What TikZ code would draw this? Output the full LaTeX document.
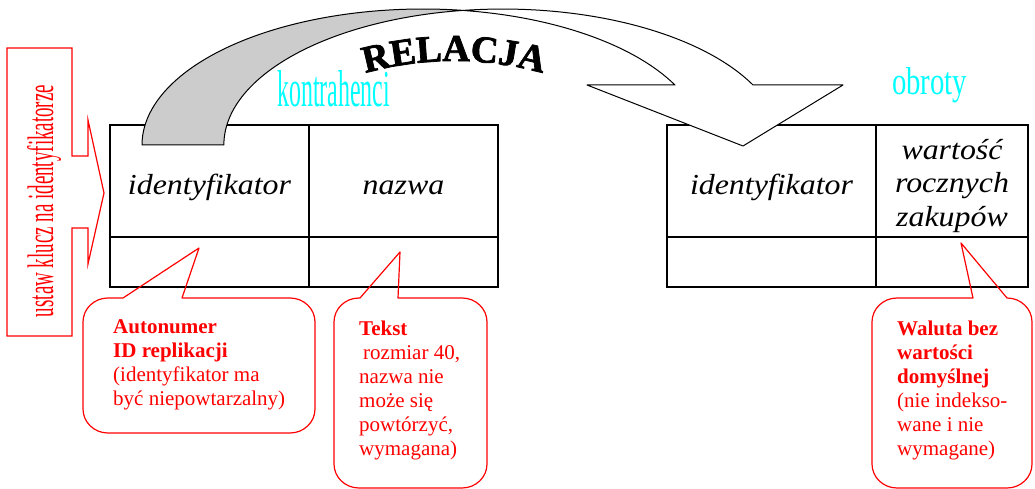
\documentclass[tikz,border=0pt]{standalone}
\usepackage{fontspec}
\setmainfont{Liberation Serif}
\newfontfamily\cellfont[FakeStretch=1.1]{Liberation Serif}
\newfontfamily\archfont[FakeBold=2]{Liberation Serif}
\usepackage{graphicx}
\usepackage{tikz}
\usetikzlibrary{positioning, decorations.text}
\definecolor{tagcyan}{RGB}{0,255,255}
\newcommand*{\bubble}[7]{%
  \draw [bubble line] (#5,#2) -- (#7) -- (#6,#2)
    -- ({#3-25},#2) arc [start angle=90, end angle=0, x radius=25pt, y radius=24pt]
    -- (#3,{#4-24}) arc [start angle=0, end angle=-90, x radius=25pt, y radius=24pt]
    -- ({#1+25},#4) arc [start angle=-90, end angle=-180, x radius=25pt, y radius=24pt]
    -- (#1,{#2+24}) arc [start angle=180, end angle=90, x radius=25pt, y radius=24pt]
    -- cycle;
}

\begin{document}
\begin{tikzpicture}[x=1pt, y=-1pt,
  cell/.style = {draw, line width=1.4pt, inner sep=0pt, outer sep=0pt,
                 minimum height=112pt,
                 font=\cellfont\itshape\fontsize{29}{33.5}\selectfont},
  lowcell/.style = {draw, line width=1.4pt, inner sep=0pt, outer sep=0pt,
                    minimum height=50pt},
  oneline/.style = {text height=26pt, text depth=0pt},
  bubble line/.style = {draw=red, line width=1.2pt, line join=round},
  bubble text/.style = {anchor=north west, inner sep=0pt, align=left,
                        text=red, font=\fontsize{21}{24}\selectfont},
  tag/.style = {anchor=base west, inner sep=0pt, text=tagcyan},
  band/.style = {draw, line width=1pt, line join=round}]
  \useasboundingbox (0,0) rectangle (1035,489);

  % kontrahenci
  \node [cell, oneline, minimum width=199pt] (kid) at (209.5,181) {identyfikator};
  \node [cell, oneline, minimum width=189pt, anchor=west] (knazwa) at (kid.east) {nazwa};
  \node [lowcell, minimum width=199pt, anchor=north] (kidlow) at (kid.south) {};
  \node [lowcell, minimum width=189pt, anchor=north] (knazwalow) at (knazwa.south) {};
  \node [tag] (ktag) at (277,107) {\resizebox{113pt}{36pt}{kontrahenci}};

  % obroty
  \node [cell, oneline, minimum width=209pt] (oid) at (771.5,181) {identyfikator};
  \node [cell, minimum width=152pt, anchor=west, align=center] (owartosc)
        at (oid.east) {\rule{0pt}{30pt}wartość\\rocznych\\zakupów};
  \node [lowcell, minimum width=209pt, anchor=north] (oidlow) at (oid.south) {};
  \node [lowcell, minimum width=152pt, anchor=north] (owartosclow) at (owartosc.south) {};
  \node [tag] (otag) at (892,95) {\resizebox{75pt}{27pt}{obroty}};

  % klucz
  \draw [red, line width=1.2pt] (7,48) -- (72,48) -- (72,156) -- (88,156)
    -- (88,120) -- (104,193) -- (88,264) -- (88,228) -- (72,228)
    -- (72,336) -- (7,336) -- cycle;
  \node [rotate=90, anchor=base, inner sep=0pt, text=red] (keylabel) at (53,201)
        {\resizebox{232pt}{26pt}{ustaw klucz na identyfikatorze}};

  % relacja
  \coordinate (baseL) at (142,145);
  \coordinate (shL) at (675,85);
  \coordinate (shR) at (753,85);
  \coordinate (wingL) at (587,85);
  \coordinate (wingR) at (843,85);
  \coordinate (tipR) at (743,146);
  \draw [band, fill=gray!40] (baseL)
    arc [start angle=180, end angle=81.8, x radius=281pt, y radius=136pt]
    arc [start angle=98.2, end angle=180, x radius=279pt, y radius=136pt] -- cycle;
  \draw [band, fill=white] (shL) -- (wingL) -- (tipR) -- (wingR) -- (shR)
    arc [start angle=26.2, end angle=98.2, x radius=279pt, y radius=136pt]
    arc [start angle=81.8, end angle=26.2, x radius=281pt, y radius=136pt] -- cycle;
  \path [decorate, decoration={text along path, text align=center,
         text={|\archfont\bfseries\fontsize{38}{40}\selectfont|RELACJA}}]
    (264.7,120.7) arc [start angle=125, end angle=55, radius=330pt];

  % opisy pol
  \coordinate (idtip) at (199,248);
  \coordinate (nazwatip) at (400,252);
  \coordinate (wartip) at (961,243);
  \bubble{83}{298}{315}{433}{123}{182}{idtip}
  \bubble{334}{298}{487}{488}{360}{398}{nazwatip}
  \bubble{872}{298}{1032}{488}{973}{1007}{wartip}
  \node [bubble text] (idnote) at (113,319.4)
        {\textbf{Autonumer}\\\textbf{ID replikacji}\\(identyfikator ma\\być niepowtarzalny)};
  \node [bubble text] (nazwanote) at (359,320.4)
        {\textbf{Tekst}\\\hspace*{4pt}rozmiar 40,\\nazwa nie\\może się\\powtórzyć,\\wymagana)};
  \node [bubble text] (warnote) at (897,320.4)
        {\textbf{Waluta bez}\\\textbf{wartości}\\\textbf{domyślnej}\\(nie indekso-\\wane i nie\\wymagane)};
\end{tikzpicture}
\end{document}
